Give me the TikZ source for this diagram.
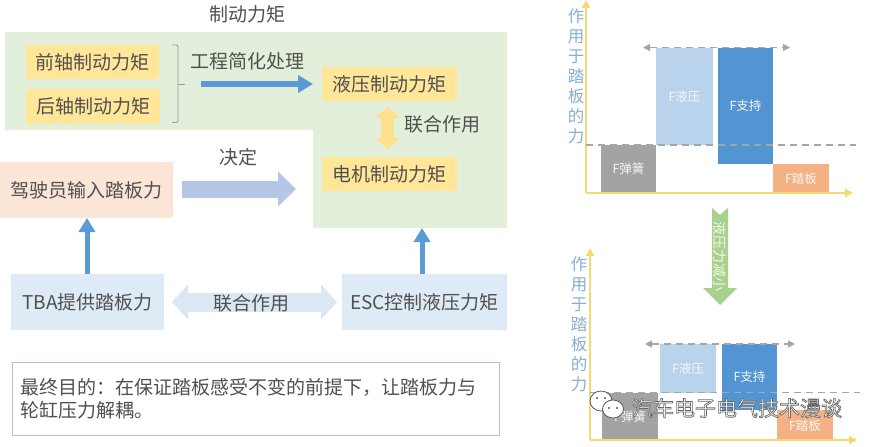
\documentclass[tikz,border=0pt]{standalone}
\usepackage{fontspec}
\setmainfont{Noto Sans CJK SC}
\usetikzlibrary{arrows.meta}
\definecolor{zone}{HTML}{E2EFDA}
\definecolor{ybox}{HTML}{FFE699}
\definecolor{pinkbox}{HTML}{FBE5D6}
\definecolor{bluebox}{HTML}{DEEAF6}
\definecolor{blueA}{HTML}{5B9BD5}
\definecolor{blueB}{HTML}{B4C7E7}
\definecolor{blueC}{HTML}{DCE7F4}
\definecolor{yarrow}{HTML}{FFE08F}
\definecolor{txt}{HTML}{505050}
\definecolor{bracec}{HTML}{8FA3A8}
\definecolor{boxline}{HTML}{A9C6C2}
\definecolor{axisc}{HTML}{F6D971}
\definecolor{labelc}{HTML}{86AFD3}
\definecolor{greyb}{HTML}{A3A3A3}
\definecolor{lblue}{HTML}{B9D3EC}
\definecolor{dblue}{HTML}{5395D3}
\definecolor{orangeb}{HTML}{F4B183}
\definecolor{dashc}{HTML}{A6A6A6}
\definecolor{garrow}{HTML}{A9D18E}
\tikzset{
  x=1pt,y=-1pt,
  box/.style={anchor=north west,inner sep=0pt,outer sep=0pt,text=txt,font=\fontsize{19}{22}\selectfont},
  lab/.style={inner sep=0pt,text=txt,font=\fontsize{19}{22}\selectfont},
  bar/.style={anchor=north west,inner sep=0pt,outer sep=0pt,text=white!92!gray,font=\fontsize{12.5}{14}\selectfont},
  axislab/.style={inner sep=0pt,align=center,text=labelc,font=\fontsize{16.5}{20}\selectfont},
  axisline/.style={draw=axisc,line width=1.5pt,-{Triangle[length=8pt,width=8pt]}},
  level/.style={draw=dashc,line width=1.2pt,dash pattern=on 7pt off 5pt},
  span/.style={draw=dashc,line width=1.2pt,dash pattern=on 7pt off 5pt,{Triangle[length=7pt,width=7pt]}-{Triangle[length=7pt,width=7pt]}},
  wmtext/.style={inner sep=0pt,text=white,font=\fontsize{21}{24}\selectfont},
}
\begin{document}
\begin{tikzpicture}
\path[use as bounding box,fill=white] (0,0) rectangle (870,447);

% green zone
\fill[zone] (5,32) -- (507,32) -- (507,228) -- (313,228) -- (313,130) -- (5,130) -- cycle;
\node[lab] (title) at (247,14) {制动力矩};

% left boxes
\node[box,fill=ybox,minimum width=133pt,minimum height=34pt] (front) at (26,45) {前轴制动力矩};
\node[box,fill=ybox,minimum width=134pt,minimum height=35pt] (rear) at (26,89) {后轴制动力矩};
\node[box,fill=ybox,minimum width=135pt,minimum height=34pt] (hyd) at (322,67) {液压制动力矩};
\node[box,fill=ybox,minimum width=135pt,minimum height=34pt] (mot) at (322,157) {电机制动力矩};
\node[box,fill=pinkbox,minimum width=173pt,minimum height=56pt] (driver) at (0,162) {驾驶员输入踏板力};
\node[box,fill=bluebox,minimum width=153pt,minimum height=56pt] (tba) at (11,274) {TBA提供踏板力};
\node[box,fill=bluebox,minimum width=165pt,minimum height=56pt] (esc) at (342,274) {ESC控制液压力矩};

% brace
\coordinate (b1) at (172,45);
\coordinate (b3) at (178,84);
\coordinate (b4) at (185,84);
\coordinate (b6) at (172,122.5);
\draw[bracec,line width=.9pt,rounded corners=2pt] (b1) -- (178,45) -- (178,122.5) -- (b6);
\draw[bracec,line width=.9pt] (b3) -- (b4);

\node[lab] (simp) at (247,61) {工程简化处理};
\coordinate (simpA) at (201,84);
\draw[blueA,line width=6pt,-{Triangle[length=15pt,width=17pt]}] (simpA) -- ([xshift=-9pt]hyd.west |- simpA);

\node[lab] (joint1) at (442,124) {联合作用};
\draw[yarrow,line width=13pt,{Triangle[length=11pt,width=25pt]}-{Triangle[length=11pt,width=25pt]}]
  ([xshift=-2pt,yshift=-6pt]hyd.south) -- ([xshift=-2pt,yshift=8pt]mot.north);

\node[lab] (decide) at (238,157) {决定};
\coordinate (decB) at (296,189);
\draw[blueB,line width=17pt,-{Triangle[length=18pt,width=34pt]}] ([xshift=9pt]driver.east |- decB) -- (decB);

\draw[blueA,line width=5pt,-{Triangle[length=14pt,width=16pt]}] (tba.north -| 87,0) -- (driver.south -| 87,0);
\coordinate (zoneB) at (422,228);
\draw[blueA,line width=5pt,-{Triangle[length=14pt,width=16pt]}] (esc.north -| zoneB) -- (zoneB);

\draw[blueC,line width=19pt,{Triangle[length=16pt,width=34pt]}-{Triangle[length=16pt,width=34pt]}]
  ([xshift=8pt]tba.east) -- ([xshift=-5pt]esc.west);
\node[lab] (joint2) at (251,303) {联合作用};

% goal box
\node[box,draw=boxline,line width=.9pt,fill=white,minimum width=487pt,minimum height=73pt] (goalbox) at (12,362) {};
\node[anchor=west,inner sep=0pt,align=left,text=txt,font=\fontsize{19}{23.5}\selectfont] (goal) at (20,398.5)
  {最终目的^^^^ff1a在保证踏板感受不变的前提下^^^^ff0c让踏板力与\\轮缸压力解耦。};

% upper chart
\node[bar,fill=greyb,minimum width=55pt,minimum height=48pt] (s1) at (601,145) {F弹簧};
\node[bar,fill=lblue,minimum width=57pt,minimum height=97.5pt] (h1) at (656,47.5) {F液压};
\node[bar,fill=dblue,minimum width=55pt,minimum height=116.5pt] (p1) at (718,47.5) {F支持};
\node[bar,fill=orangeb,minimum width=56pt,minimum height=29pt] (d1) at (773,164) {F踏板};
\coordinate (o1) at (586,193);
\coordinate (yt1) at (586,0);
\coordinate (xe1) at (853,193);
\draw[axisline] (o1) -- (yt1);
\draw[axisline] (o1) -- (xe1);
\coordinate (la1) at (586,145);
\coordinate (lb1) at (856,145);
\draw[level] (la1) -- (lb1);
\coordinate (sa1) at (643,47.5);
\coordinate (sb1) at (790,47.5);
\draw[span] (sa1) -- (sb1);
\node[axislab] (yl1) at (576,76) {作\\用\\于\\踏\\板\\的\\力};

% green arrow
\fill[garrow] (712,208) -- (720,215) -- (728,208) -- (728,288) -- (737,288) -- (720,305) -- (703,288) -- (712,288) -- cycle;
\node[inner sep=0pt,rotate=-90,text=white!85!garrow,font=\fontsize{14}{16}\selectfont] (less) at (720,256) {液压力减小};

% lower chart
\node[bar,fill=greyb,minimum width=56pt,minimum height=48pt] (s2) at (602,393) {F弹簧};
\node[bar,fill=lblue,minimum width=56pt,minimum height=49pt] (h2) at (660,344) {F液压};
\node[bar,fill=dblue,minimum width=55pt,minimum height=66pt] (p2) at (722,344) {F支持};
\node[bar,fill=orangeb,minimum width=56pt,minimum height=31pt] (d2) at (777,410) {F踏板};
\coordinate (o2) at (590,440);
\coordinate (yt2) at (590,248);
\coordinate (xe2) at (857,440);
\draw[axisline] (o2) -- (yt2);
\draw[axisline] (o2) -- (xe2);
\coordinate (la2) at (590,392.5);
\coordinate (lb2) at (860,392.5);
\draw[level] (la2) -- (lb2);
\coordinate (sa2) at (645,344);
\coordinate (sb2) at (795,344);
\draw[span] (sa2) -- (sb2);
\node[axislab] (yl2) at (579,324) {作\\用\\于\\踏\\板\\的\\力};

% watermark
\filldraw[draw=black!65,fill=white,line width=.8pt] (601,401) ellipse (11pt and 10pt);
\filldraw[draw=black!65,fill=white,line width=.8pt] (613,409) ellipse (10.5pt and 9pt);
\fill[black!65] (597,398) circle (1.2pt) (605,398) circle (1.2pt) (609,408) circle (1.1pt) (617,408) circle (1.1pt);
\node[wmtext] (wm) at (737,408) {\special{pdf:code q 2 Tr 0.7 w 0.42 G 1 g}汽车电子电气技术漫谈\special{pdf:code Q}};
\end{tikzpicture}
\end{document}
